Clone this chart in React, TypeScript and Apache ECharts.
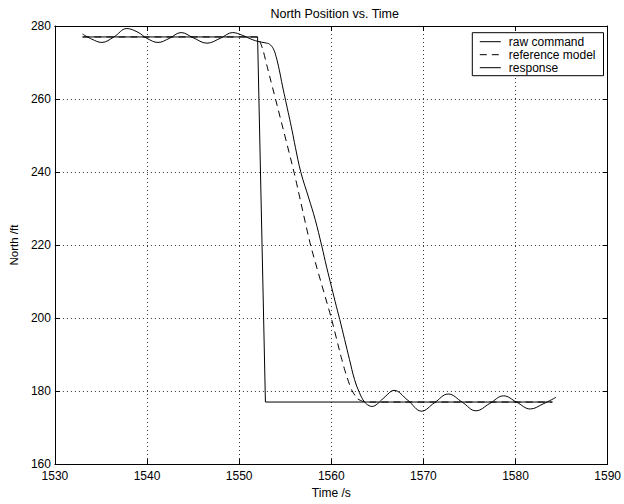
import React, { useEffect, useRef } from "react";
import * as echarts from "echarts";

const seriesNames = ["raw command", "reference model", "response"];

const rawCommand: [number, number][] = [
  [1533.0, 277.0],
  [1552.0, 277.0],
  [1552.85, 177.0],
  [1584.0, 177.0],
];

const referenceModel: [number, number][] = [
  [1533.0, 277.0],
  [1552.0, 277.0],
  [1552.25, 275.8],
  [1552.6, 273.3],
  [1553.0, 269.3],
  [1555.95, 240.0],
  [1557.75, 220.0],
  [1560.0, 200.0],
  [1561.0, 190.0],
  [1561.6, 184.6],
  [1562.2, 180.4],
  [1562.8, 178.0],
  [1563.4, 177.2],
  [1564.2, 177.0],
  [1584.0, 177.0],
];

const response: [number, number][] = [
  [1533.0, 277.8],
  [1534.0, 276.4],
  [1535.1, 275.5],
  [1536.4, 277.0],
  [1537.8, 279.3],
  [1539.0, 278.3],
  [1540.0, 276.6],
  [1541.2, 275.5],
  [1542.4, 276.6],
  [1543.7, 278.2],
  [1545.0, 276.8],
  [1546.5, 275.3],
  [1548.0, 276.7],
  [1549.3, 278.2],
  [1550.4, 277.4],
  [1551.2, 276.5],
  [1552.0, 275.8],
  [1552.8, 275.4],
  [1553.3, 275.0],
  [1553.7, 273.8],
  [1554.0, 271.7],
  [1554.35, 268.0],
  [1554.7, 263.6],
  [1555.05, 259.5],
  [1555.75, 251.3],
  [1556.1, 246.8],
  [1556.7, 239.9],
  [1557.55, 232.9],
  [1558.25, 227.0],
  [1558.96, 219.8],
  [1559.5, 213.9],
  [1560.03, 208.5],
  [1560.56, 203.1],
  [1560.92, 199.6],
  [1561.45, 194.1],
  [1561.98, 188.6],
  [1562.52, 183.2],
  [1563.05, 179.6],
  [1563.58, 177.1],
  [1564.1, 176.0],
  [1564.45, 175.8],
  [1565.0, 176.5],
  [1565.9, 178.6],
  [1566.8, 180.2],
  [1568.3, 177.5],
  [1569.8, 174.5],
  [1571.2, 176.8],
  [1572.7, 179.2],
  [1574.2, 177.0],
  [1575.7, 174.6],
  [1577.2, 176.6],
  [1578.7, 178.7],
  [1580.1, 177.0],
  [1581.6, 175.1],
  [1583.0, 176.5],
  [1584.4, 178.3],
];

const xMin = 1530;
const xMax = 1590;
const xStep = 10;
const yMin = 160;
const yMax = 280;
const yStep = 20;

const FONT = "'Liberation Sans', Arial, Helvetica, sans-serif";

export default function App() {
  const ref = useRef<HTMLDivElement>(null);

  useEffect(() => {
    if (!ref.current) return;
    const chart = echarts.init(ref.current, null, { renderer: "svg" });
    const tick = { show: true, inside: true, length: 5, lineStyle: { color: "#000", width: 1 } };
    const axisLine = { show: true, onZero: false, lineStyle: { color: "#000", width: 1 } };
    const split = { show: true, lineStyle: { color: "#333", width: 1, type: [1, 3] as any } };
    const label = { color: "#000", fontSize: 12, fontFamily: FONT, formatter: (v: number) => String(v) };

    chart.setOption({
      animation: false,
      backgroundColor: "#fff",
      textStyle: { fontFamily: FONT },
      title: {
        text: "North Position vs. Time",
        left: 329.7,
        textAlign: "center",
        top: 2,
        textStyle: { fontSize: 12.5, fontWeight: "normal", color: "#000", fontFamily: FONT },
      },
      grid: { left: 48.7, right: 13.3, top: 26, bottom: 35, containLabel: false },
      legend: {
        orient: "vertical",
        left: 472.3,
        top: 32.7,
        padding: [3, 8, 2, 7],
        itemWidth: 21,
        itemHeight: 14,
        itemGap: 1,
        backgroundColor: "#fff",
        borderColor: "#000",
        borderWidth: 1,
        borderRadius: 0,
        itemStyle: { opacity: 0 },
        lineStyle: { width: 1 },
        data: seriesNames,
        textStyle: { fontSize: 12, color: "#000", fontFamily: FONT, padding: [0, 0, 0, 3] },
      },
      xAxis: [
        {
          type: "value",
          min: xMin,
          max: xMax,
          interval: xStep,
          position: "bottom",
          name: "Time /s",
          nameLocation: "middle",
          nameGap: 22,
          nameTextStyle: { fontSize: 12, color: "#000", fontFamily: FONT },
          axisLine,
          axisTick: tick,
          axisLabel: { ...label, margin: 6 },
          splitLine: split,
        },
        {
          type: "value",
          min: xMin,
          max: xMax,
          interval: xStep,
          position: "top",
          axisLine,
          axisTick: tick,
          axisLabel: { show: false },
          splitLine: { show: false },
        },
      ],
      yAxis: [
        {
          type: "value",
          min: yMin,
          max: yMax,
          interval: yStep,
          position: "left",
          name: "North /ft",
          nameLocation: "middle",
          nameGap: 24,
          nameTextStyle: { fontSize: 11.5, color: "#000", fontFamily: FONT },
          axisLine,
          axisTick: tick,
          axisLabel: { ...label, margin: 4 },
          splitLine: split,
        },
        {
          type: "value",
          min: yMin,
          max: yMax,
          interval: yStep,
          position: "right",
          axisLine,
          axisTick: tick,
          axisLabel: { show: false },
          splitLine: { show: false },
        },
      ],
      series: [
        {
          name: seriesNames[0],
          type: "line",
          data: rawCommand,
          showSymbol: false,
          symbol: "none",
          lineStyle: { color: "#000", width: 1 },
          itemStyle: { color: "#000" },
        },
        {
          name: seriesNames[1],
          type: "line",
          data: referenceModel,
          showSymbol: false,
          symbol: "none",
          smooth: 0.2,
          lineStyle: { color: "#000", width: 1, type: [7, 5] },
          itemStyle: { color: "#000" },
        },
        {
          name: seriesNames[2],
          type: "line",
          data: response,
          showSymbol: false,
          symbol: "none",
          smooth: 0.4,
          lineStyle: { color: "#000", width: 1 },
          itemStyle: { color: "#000" },
        },
      ],
    });
    return () => chart.dispose();
  }, []);

  return (
    <div
      ref={ref}
      style={{ position: "fixed", left: 0, top: 0, width: 624, height: 504, background: "#fff" }}
    />
  );
}
